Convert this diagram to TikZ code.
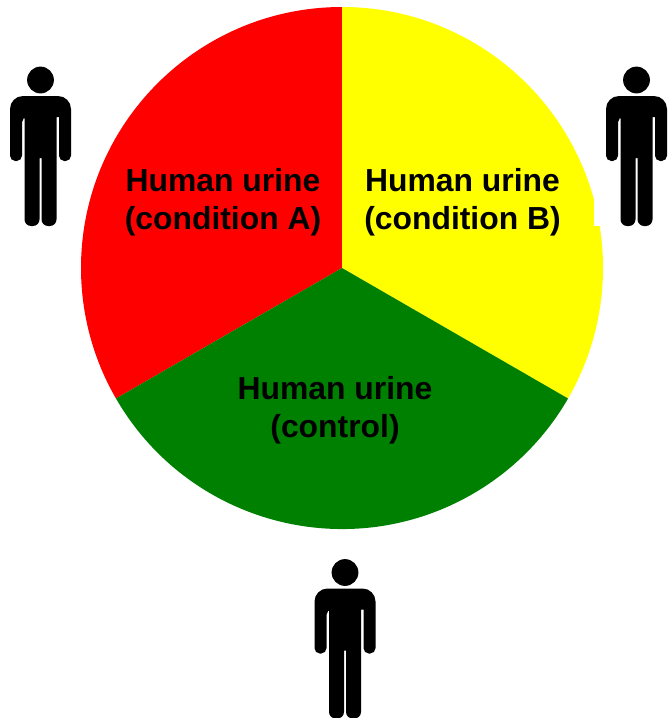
\documentclass[tikz,border=0pt]{standalone}
\usepackage{fontspec}
\setmainfont{Liberation Sans}
\definecolor{sectorred}{RGB}{255,0,0}
\definecolor{sectoryellow}{RGB}{255,255,0}
\definecolor{sectorgreen}{RGB}{0,128,0}
\tikzset{
  sectorlabel/.style={align=center, text=black, inner sep=0pt,
    font=\bfseries\fontsize{27.2}{32.6}\selectfont},
  person/.pic={
    % Cap
    \fill[black] (0,0) circle (13.4);
    % Cos
    \fill[black, rounded corners=0.16cm]
      (-16,37) -- (-18.5,37) -- (-18.5,81) -- (-30.5,81)
      [rounded corners=0.39cm] -- (-30.5,16) -- (30.5,16)
      [rounded corners=0.16cm] -- (30.5,81) -- (18.5,81)
      [sharp corners] -- (18.5,37) -- (16,37)
      [rounded corners=0.2cm] -- (16,146) -- (1,146)
      [sharp corners] -- (1,78) -- (-1,78)
      [rounded corners=0.2cm] -- (-1,146) -- (-16,146)
      [sharp corners] -- (-16,37) -- cycle;
  }
}
\begin{document}
\begin{tikzpicture}[x=0.03cm, y=-0.03cm]
\useasboundingbox (0,0) rectangle (671,718);

% Sectors
\coordinate (centre) at (342,268);
\fill[sectorred] (centre) -- (342,7) arc (-90:-210:261) -- cycle;
\fill[sectoryellow] (centre) -- (342,7) arc (-90:30:261) -- cycle;
\fill[sectorgreen] (centre) -- (116,398.5) arc (-210:-330:261) -- cycle;

% Box behind the right person
\fill[white] (594,60) rectangle (671,225.5);

% Labels
\node[sectorlabel] (condA) at (223,202) {Human urine\\(condition A)};
\node[sectorlabel] (condB) at (462.5,202) {Human urine\\(condition B)};
\node[sectorlabel] (control) at (335,410.5) {Human urine\\(control)};

% Persons
\pic at (40.5,80) {person};
\pic at (636.5,80) {person};
\pic at (345,572.5) {person};

\end{tikzpicture}
\end{document}
